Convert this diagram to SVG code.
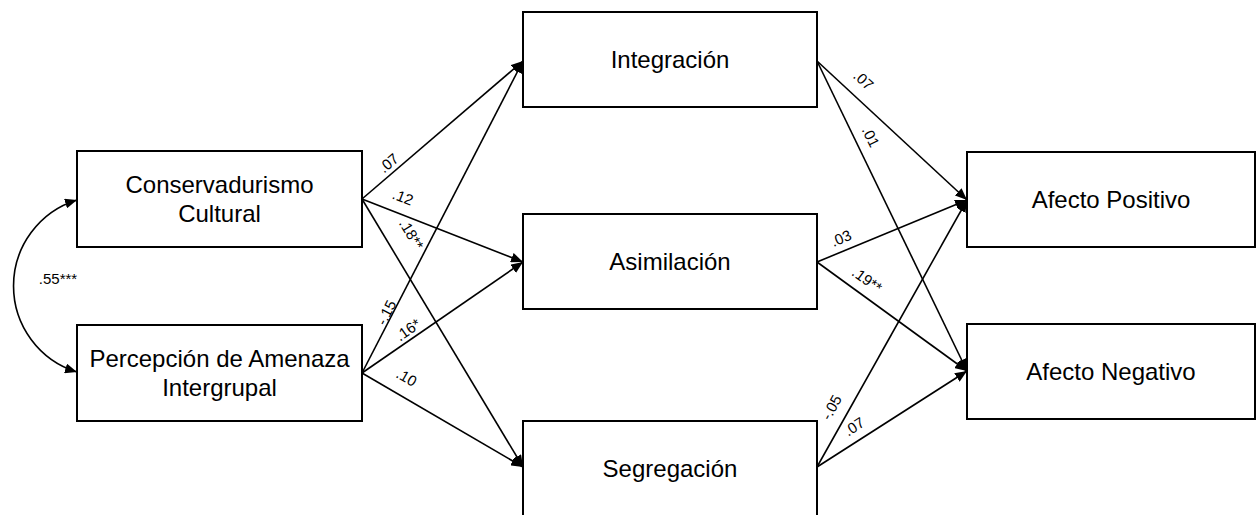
<svg xmlns="http://www.w3.org/2000/svg" width="1257" height="515" viewBox="0 0 1257 515">
<defs>
<style>
.box{fill:#fff;stroke:#000;stroke-width:2}
.nt{font-family:"Liberation Sans",Arial,sans-serif;font-size:24px;fill:#000;text-anchor:middle}
.lb{font-family:"Liberation Sans",Arial,sans-serif;font-size:15px;fill:#000;text-anchor:middle}
.ed{fill:none;stroke:#000;stroke-width:1.6;marker-end:url(#ah)}
</style>
<marker id="ah" markerUnits="userSpaceOnUse" markerWidth="12" markerHeight="10" refX="12" refY="5" orient="auto-start-reverse" viewBox="0 0 12 10">
<path d="M0,0 L12,5 L0,10 z" fill="#000"/>
</marker>
</defs>
<rect width="1257" height="515" fill="#fff"/>
<g id="connectors">
<path class="ed" d="M362,199 L523,61"/>
<path class="ed" d="M362,199 L523,262"/>
<path class="ed" d="M362,199 L523,467"/>
<path class="ed" d="M362,373 L523,61"/>
<path class="ed" d="M362,373 L523,262"/>
<path class="ed" d="M362,373 L523,467"/>
<path class="ed" d="M817,61 L967,200"/>
<path class="ed" d="M817,61 L967,371"/>
<path class="ed" d="M817,262 L967,200"/>
<path class="ed" d="M817,262 L967,371"/>
<path class="ed" d="M817,467 L967,200"/>
<path class="ed" d="M817,467 L967,371"/>
<path class="ed" style="marker-start:url(#ah)" d="M77,200 A90,90 0 0 0 77,372"/>
<text class="lb" transform="translate(392,167) rotate(-40.6)">.07</text>
<text class="lb" transform="translate(401,202) rotate(21)">.12</text>
<text class="lb" transform="translate(407,237) rotate(59)">.18**</text>
<text class="lb" transform="translate(391,315) rotate(-63)">-.15</text>
<text class="lb" transform="translate(411,334) rotate(-35)">.16*</text>
<text class="lb" transform="translate(404,382) rotate(30)">.10</text>
<text class="lb" transform="translate(860,84) rotate(42.6)">.07</text>
<text class="lb" transform="translate(866,139) rotate(64)">.01</text>
<text class="lb" transform="translate(843,243) rotate(-23)">.03</text>
<text class="lb" transform="translate(864,284) rotate(36)">.19**</text>
<text class="lb" transform="translate(836,410) rotate(-61)">-.05</text>
<text class="lb" transform="translate(857,431) rotate(-33)">.07</text>
<text class="lb" x="58" y="284">.55***</text>
</g>
<g id="n-conservadurismo">
<rect class="box" x="77" y="151" width="285" height="96"/>
<text class="nt" x="219.5" y="193">Conservadurismo</text>
<text class="nt" x="219.5" y="222">Cultural</text>
</g>
<g id="n-percepcion">
<rect class="box" x="77" y="325" width="285" height="96"/>
<text class="nt" x="219.5" y="367">Percepción de Amenaza</text>
<text class="nt" x="219.5" y="396">Intergrupal</text>
</g>
<g id="n-integracion">
<rect class="box" x="523" y="12" width="294" height="95"/>
<text class="nt" x="670" y="68">Integración</text>
</g>
<g id="n-asimilacion">
<rect class="box" x="523" y="214" width="294" height="95"/>
<text class="nt" x="670" y="270">Asimilación</text>
</g>
<g id="n-segregacion">
<rect class="box" x="523" y="421" width="294" height="95"/>
<text class="nt" x="670" y="477">Segregación</text>
</g>
<g id="n-afecto-positivo">
<rect class="box" x="967" y="152" width="288" height="95"/>
<text class="nt" x="1111" y="208">Afecto Positivo</text>
</g>
<g id="n-afecto-negativo">
<rect class="box" x="967" y="324" width="288" height="95"/>
<text class="nt" x="1111" y="380">Afecto Negativo</text>
</g>
</svg>
